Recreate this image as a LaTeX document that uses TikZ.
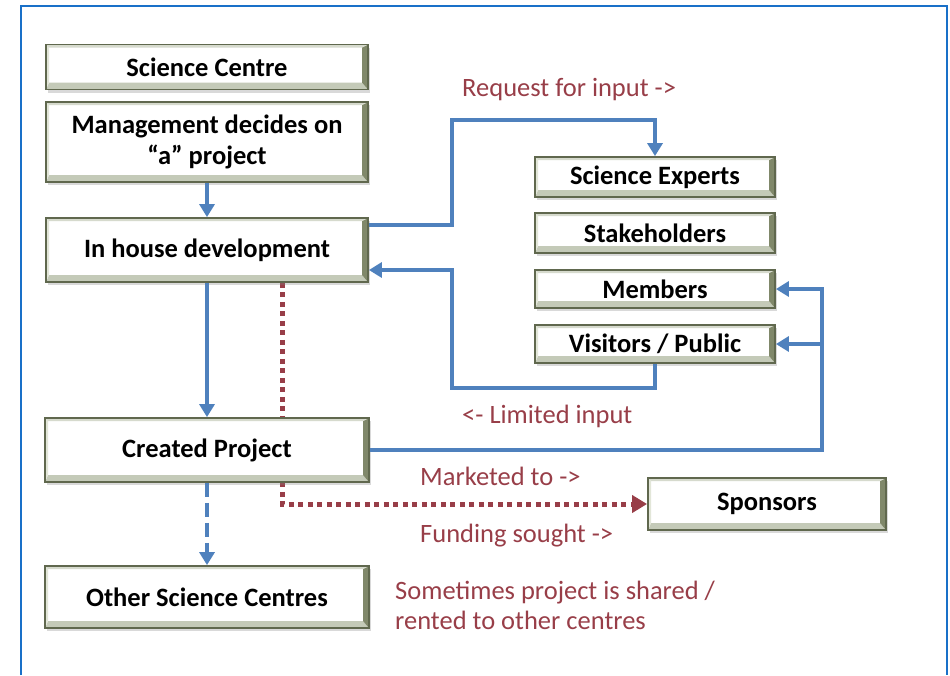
\documentclass[tikz,border=0pt]{standalone}
\usepackage{fontspec}
\setmainfont{Carlito}
\usetikzlibrary{arrows.meta,shadows,backgrounds}
\definecolor{frameblue}{RGB}{25,112,200}
\definecolor{flowblue}{RGB}{79,129,189}
\definecolor{notered}{RGB}{152,62,72}
\definecolor{boxedge}{RGB}{96,104,78}
\definecolor{bevellow}{RGB}{196,202,184}
\definecolor{bevelside}{RGB}{128,136,106}
\definecolor{bevellight}{RGB}{226,230,216}

\tikzset{
  box/.style={draw=boxedge, line width=1.8pt, fill=white,
    inner sep=0pt, align=center, font=\fontsize{26.5}{31}\selectfont\bfseries,
    drop shadow={shadow xshift=1.5pt, shadow yshift=-3pt, opacity=.3},
    path picture={
      % bevelled rim: bottom, right, left, top
      \fill[bevellow] (path picture bounding box.south west) -- (path picture bounding box.south east)
        -- ([xshift=-6pt,yshift=7pt]path picture bounding box.south east)
        -- ([xshift=3pt,yshift=7pt]path picture bounding box.south west) -- cycle;
      \fill[bevelside] (path picture bounding box.south east) -- (path picture bounding box.north east)
        -- ([xshift=-6pt,yshift=-3pt]path picture bounding box.north east)
        -- ([xshift=-6pt,yshift=7pt]path picture bounding box.south east) -- cycle;
      \fill[bevellight] (path picture bounding box.south west) -- (path picture bounding box.north west)
        -- ([xshift=3pt,yshift=-3pt]path picture bounding box.north west)
        -- ([xshift=3pt,yshift=7pt]path picture bounding box.south west) -- cycle;
      \fill[bevellow!70] (path picture bounding box.north west) -- (path picture bounding box.north east)
        -- ([xshift=-6pt,yshift=-3pt]path picture bounding box.north east)
        -- ([xshift=3pt,yshift=-3pt]path picture bounding box.north west) -- cycle;
    }},
  flow/.style={draw=flowblue, line width=4pt, -{Triangle[length=13pt,width=15pt]}},
  dots/.style={draw=notered, line width=5pt, dash pattern=on 5pt off 4.5pt,
    -{Triangle[length=15pt,width=17pt]}},
  note/.style={text=notered, anchor=west, align=left, inner sep=0pt,
    font=\fontsize{26.5}{30}\selectfont},
}

\begin{document}
\begin{tikzpicture}[x=1pt,y=-1pt]
\useasboundingbox (0,0) rectangle (950,675);
\draw[frameblue, line width=2.5pt] (21,675) -- (21,6) -- (947,6) -- (947,675);

% left column
\node[box, minimum width=322pt, minimum height=45pt] (centre) at (207,67) {Science Centre};
\node[box, minimum width=322pt, minimum height=80pt] (mgmt) at (207,142) {Management decides on\\``a'' project};
\node[box, minimum width=322pt, minimum height=64pt] (inhouse) at (207,250) {In house development};
\node[box, minimum width=324pt, minimum height=64pt] (created) at (207,450) {Created Project};
\node[box, minimum width=324pt, minimum height=62pt] (others) at (207,597) {Other Science Centres};

% input groups
\node[box, minimum width=240pt, minimum height=40pt] (experts) at (655,177) {Science Experts};
\node[box, minimum width=240pt, minimum height=40pt] (stake) at (655,233) {Stakeholders};
\node[box, minimum width=240pt, minimum height=38pt] (members) at (655,289) {Members};
\node[box, minimum width=240pt, minimum height=38pt] (visitors) at (655,344) {Visitors / Public};
\node[box, minimum width=238pt, minimum height=52pt] (sponsors) at (767,504) {Sponsors};

\coordinate (askbend) at (452,120);
\coordinate (backbend) at (452,388);
\coordinate (fanout) at (822,289);

\draw[flow] (mgmt) -- (inhouse);
\draw[flow] (inhouse) -- (created);
\draw[flow, dash pattern=on 14pt off 6pt] (created) -- (others);
\draw[flow] ([yshift=25pt]inhouse.east) -| (askbend) -| (experts.north);
\draw[flow] (visitors.south) |- (backbend) |- ([yshift=-20pt]inhouse.east);
\draw[flow] (created.east) -| (fanout) -- (members.east);
\draw[flow] (fanout |- visitors.east) -- (visitors.east);
\begin{scope}[on background layer]
\draw[dots] ([xshift=75pt]inhouse.south) |- (sponsors.west);
\end{scope}

\node[note] (asklbl) at (462,90) {Request for input ->};
\node[note] (backlbl) at (462,416) {<- Limited input};
\node[note] (marketlbl) at (420,476) {Marketed to ->};
\node[note] (fundlbl) at (420,536) {Funding sought ->};
\node[note] (sharelbl) at (395,605) {Sometimes project is shared /\\rented to other centres};
\end{tikzpicture}
\end{document}
